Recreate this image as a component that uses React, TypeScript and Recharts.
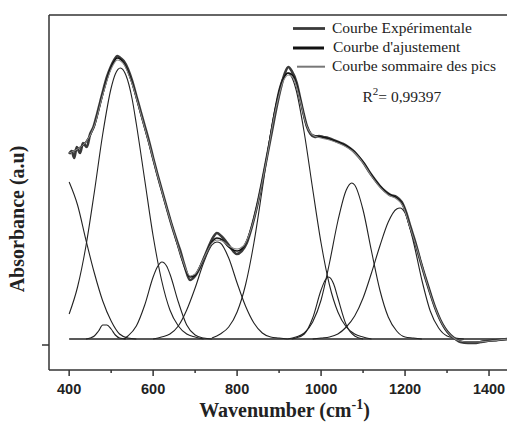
import React from "react"
import { LineChart, Line, XAxis, YAxis, ReferenceLine } from "recharts"

// absorbance in arbitrary units
const experimentale = [
  [400, 185], [406, 188], [412, 181], [418, 192], [426, 186], [433, 196], [442, 192], [450, 205],
  [458, 212], [466, 224], [474, 237], [482, 250], [490, 262], [498, 271], [506, 278], [515, 283],
  [522, 281], [530, 278], [540, 270], [550, 258], [560, 243], [570, 228], [580, 213], [590, 198],
  [600, 181], [610, 165], [620, 150], [632, 132], [645, 113], [655, 100], [664, 89], [675, 73],
  [688, 59], [698, 62], [712, 72], [722, 82], [732, 92], [742, 101], [752, 106], [762, 103],
  [771, 99], [785, 91], [799, 85], [811, 88], [823, 96], [835, 112], [847, 132], [859, 156],
  [871, 182], [883, 208], [894, 232], [904, 251], [914, 266], [922, 272], [930, 268], [942, 256],
  [950, 241], [958, 226], [966, 213], [975, 205], [985, 202], [995, 203], [1005, 202], [1017, 201],
  [1029, 199], [1041, 197], [1053, 195], [1065, 192], [1077, 188], [1090, 182], [1103, 175],
  [1115, 167], [1127, 160], [1140, 153], [1152, 148], [1165, 144], [1180, 142], [1192, 137],
  [1203, 126], [1213, 112], [1225, 96], [1236, 79], [1248, 62], [1260, 46], [1272, 31], [1284, 19],
  [1296, 10], [1308, 4], [1320, 0], [1332, -3], [1350, -4], [1365, -4], [1380, -3], [1395, -2],
  [1420, -1], [1445, 0],
]

const ajustement = [
  [400, 186], [420, 190], [440, 197], [460, 213], [480, 245], [500, 272], [515, 281], [530, 276],
  [550, 256], [570, 226], [590, 196], [610, 164], [630, 134], [650, 106], [670, 78], [688, 62],
  [700, 64], [720, 80], [740, 97], [752, 101], [765, 99], [780, 92], [800, 88], [815, 92],
  [830, 106], [850, 138], [870, 180], [890, 228], [910, 260], [922, 266], [935, 262], [950, 240],
  [965, 214], [980, 204], [1000, 202], [1020, 200], [1040, 197], [1060, 193], [1080, 187],
  [1100, 177], [1120, 164], [1140, 153], [1160, 145], [1180, 141], [1195, 134], [1210, 114],
  [1230, 88], [1250, 59], [1270, 33], [1290, 14], [1310, 3], [1330, -2], [1350, -3], [1370, -3],
  [1400, -2], [1445, 0],
]

const sommePics = [
  [400, 186], [420, 190], [440, 197], [460, 213], [480, 244], [500, 270], [515, 279], [530, 275],
  [550, 255], [570, 226], [590, 196], [610, 164], [630, 134], [650, 106], [670, 79], [688, 63],
  [700, 65], [720, 80], [740, 96], [752, 99], [765, 98], [780, 93], [800, 90], [815, 93],
  [830, 106], [850, 137], [870, 179], [890, 226], [910, 258], [922, 264], [935, 260], [950, 239],
  [965, 214], [980, 204], [1000, 201], [1020, 199], [1040, 196], [1060, 192], [1080, 186],
  [1100, 176], [1120, 163], [1140, 152], [1160, 144], [1180, 140], [1195, 133], [1210, 114],
  [1230, 88], [1250, 59], [1270, 33], [1290, 14], [1310, 3], [1330, -2], [1350, -3], [1370, -3],
  [1400, -2], [1445, 0],
]

// fitted peaks
const pic1 = [[400, 157], [420, 134], [440, 99], [460, 66], [480, 38], [500, 18], [520, 5], [540, 1], [560, 0]]
const pic2 = [
  [400, 25], [420, 52], [440, 93], [460, 147], [480, 205], [500, 251], [510, 265], [522, 271],
  [535, 264], [550, 240], [560, 215], [580, 159], [600, 103], [620, 59], [640, 29], [660, 13],
  [680, 5], [700, 2], [720, 0],
]
const pic3 = [[440, 0], [450, 1], [460, 3], [470, 8], [480, 14], [490, 14], [500, 10], [510, 4], [520, 1], [535, 0]]
const pic4 = [
  [530, 0], [540, 3], [560, 13], [580, 34], [600, 62], [610, 72], [621, 77], [632, 73], [640, 65],
  [660, 37], [680, 14], [700, 4], [720, 1], [740, 0],
]
const pic5 = [
  [600, 0], [620, 2], [640, 5], [660, 13], [680, 29], [700, 51], [720, 76], [740, 94], [752, 97],
  [760, 96], [780, 81], [800, 56], [820, 33], [840, 16], [860, 6], [880, 2], [900, 1], [920, 0],
]
const pic6 = [
  [740, 1], [760, 5], [780, 12], [800, 27], [820, 54], [840, 96], [860, 150], [880, 206], [900, 250],
  [910, 262], [920, 266], [930, 262], [940, 250], [960, 206], [980, 150], [1000, 96], [1020, 54],
  [1040, 27], [1060, 12], [1080, 5], [1100, 2], [1120, 0],
]
const pic7 = [
  [930, 0], [940, 1], [960, 5], [980, 21], [1000, 49], [1010, 59], [1018, 62], [1030, 55],
  [1040, 41], [1060, 14], [1080, 3], [1100, 0],
]
const pic8 = [
  [920, 0], [940, 2], [960, 6], [980, 17], [1000, 39], [1020, 76], [1040, 118], [1060, 149],
  [1073, 156], [1080, 154], [1100, 129], [1120, 88], [1140, 49], [1160, 22], [1180, 8], [1200, 2],
  [1220, 1], [1240, 0],
]
const pic9 = [
  [980, 0], [1000, 1], [1020, 2], [1040, 5], [1060, 12], [1080, 23], [1100, 41], [1120, 66],
  [1140, 93], [1160, 117], [1180, 130], [1188, 131], [1200, 126], [1220, 97], [1240, 59],
  [1260, 28], [1280, 11], [1300, 3], [1320, 1], [1340, 0],
]
const ligneBase = [[400, 0], [1469, 0]]

const pics = [pic1, pic2, pic3, pic4, pic5, pic6, pic7, pic8, pic9]
const xTicks = [400, 500, 600, 700, 800, 900, 1000, 1100, 1200, 1300, 1400]
const yTicks = [-6]

const toPts = (rows: number[][]) => rows.map(([x, y]) => ({ x, y }))

const serif = "'Liberation Serif', 'Times New Roman', serif"
const sans = "'Liberation Sans', Arial, sans-serif"
const ink = "#333"

const XTick = (props: any) => {
  const { x, y, payload } = props
  const major = payload.value % 200 === 0
  return (
    <g>
      <line x1={x} x2={x} y1={y} y2={y + (major ? 6 : 3)} stroke={ink} strokeWidth={1.5} />
      {major && (
        <text x={x} y={y + 24} textAnchor="middle" fontFamily={sans} fontWeight="bold" fontSize={14.5} fill="#222">
          {payload.value}
        </text>
      )}
    </g>
  )
}

const YTick = (props: any) => {
  const { x, y } = props
  return <line x1={x - 7} x2={x} y1={y} y2={y} stroke={ink} strokeWidth={1.5} />
}

export default function App() {
  return (
    <div style={{ position: "absolute", left: 0, top: 0, width: 507, height: 422, overflow: "hidden", background: "#fff" }}>
      <LineChart width={540} height={422} margin={{ top: 15, right: 22, left: 0, bottom: 0 }}>
        <XAxis
          type="number"
          dataKey="x"
          domain={[352, 1469]}
          allowDataOverflow
          ticks={xTicks}
          interval={0}
          tick={<XTick />}
          tickLine={false}
          tickSize={0}
          tickMargin={0}
          height={52}
          axisLine={{ stroke: ink, strokeWidth: 1.5 }}
        />
        <YAxis
          type="number"
          dataKey="y"
          domain={[-31, 324]}
          allowDataOverflow
          ticks={yTicks}
          tick={<YTick />}
          tickLine={false}
          tickSize={0}
          tickMargin={0}
          width={49}
          axisLine={{ stroke: ink, strokeWidth: 1.5 }}
        />
        <ReferenceLine y={324} stroke={ink} strokeWidth={1.5} />
        {pics.map((p, i) => (
          <Line
            key={i}
            data={toPts(p)}
            dataKey="y"
            type="monotone"
            stroke="#222"
            strokeWidth={1.1}
            dot={false}
            isAnimationActive={false}
          />
        ))}
        <Line data={toPts(ligneBase)} dataKey="y" type="linear" stroke="#222" strokeWidth={1.4} dot={false} isAnimationActive={false} />
        <Line data={toPts(experimentale)} dataKey="y" type="monotone" stroke="#3a3a3a" strokeWidth={2.6} dot={false} isAnimationActive={false} />
        <Line data={toPts(ajustement)} dataKey="y" type="monotone" stroke="#111" strokeWidth={1.6} dot={false} isAnimationActive={false} />
        <Line data={toPts(sommePics)} dataKey="y" type="monotone" stroke="#888" strokeWidth={1.1} dot={false} isAnimationActive={false} />
      </LineChart>
      <svg width={507} height={422} style={{ position: "absolute", left: 0, top: 0, pointerEvents: "none" }}>
        <line x1={293} x2={325} y1={28.5} y2={28.5} stroke="#3a3a3a" strokeWidth={2.8} />
        <text x={332} y={32.5} fontFamily={serif} fontSize={15.5} fill="#222">Courbe Expérimentale</text>
        <line x1={293} x2={324} y1={48} y2={48} stroke="#111" strokeWidth={3} />
        <text x={333} y={52} fontFamily={serif} fontSize={15.5} fill="#222">Courbe d'ajustement</text>
        <line x1={297} x2={325} y1={66.7} y2={66.7} stroke="#777" strokeWidth={2} />
        <text x={332} y={71} fontFamily={serif} fontSize={15.5} fill="#222">Courbe sommaire des pics</text>
        <text x={362.5} y={101.5} fontFamily={serif} fontSize={15.5} fill="#222">
          R<tspan dy={-7} fontSize={11}>2</tspan>
          <tspan dy={7}>= 0,99397</tspan>
        </text>
        <text x={284.5} y={417} textAnchor="middle" fontFamily={serif} fontWeight="bold" fontSize={20} fill="#222">
          Wavenumber (cm<tspan dy={-8} fontSize={14}>-1</tspan>
          <tspan dy={8}>)</tspan>
        </text>
        <text
          x={24}
          y={219}
          transform="rotate(-90, 24, 219)"
          textAnchor="middle"
          fontFamily={serif}
          fontWeight="bold"
          fontSize={20}
          fill="#222"
        >
          Absorbance (a.u)
        </text>
      </svg>
    </div>
  )
}
